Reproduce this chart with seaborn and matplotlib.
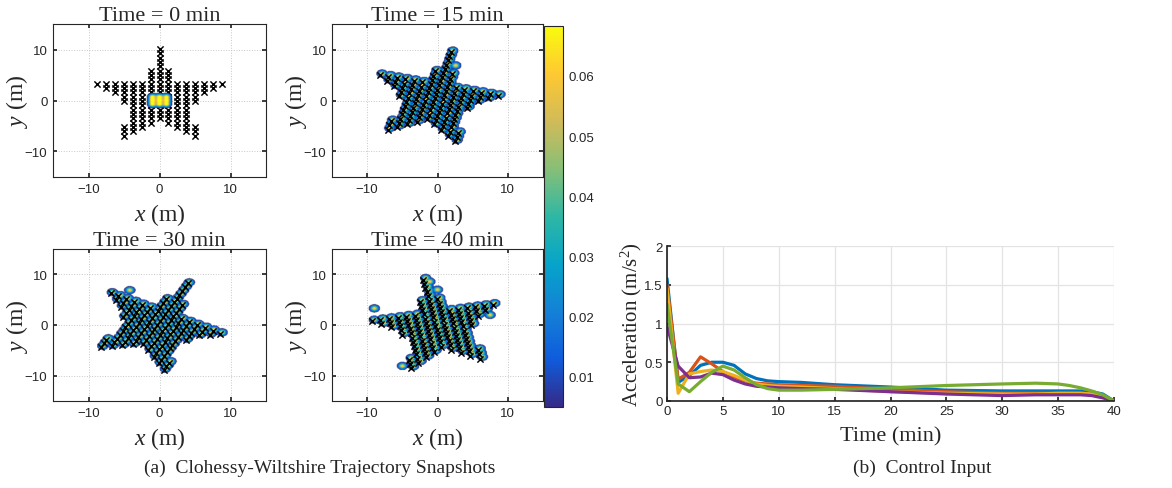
import numpy as np
import pandas as pd
import matplotlib
matplotlib.use("Agg")
import matplotlib.pyplot as plt
from matplotlib.colors import LinearSegmentedColormap
from matplotlib.path import Path
import seaborn as sns

# ---------------- data ----------------
# initial star formation: outline vertices (CCW, outer tip / inner corner alternating)
STAR_X = [0.0, -2.0, -9.2, -3.5, -5.6, 0.0, 5.6, 3.5, 9.2, 2.0]
STAR_Y = [9.8, 3.5, 3.5, -1.2, -7.2, -3.8, -7.2, -1.2, 3.5, 3.5]
GRID_DX = 1.25          # column spacing of agents (m)
GRID_DY = 0.85          # row spacing of agents (m)
GRID_Y0 = 3.3           # a row of agents sits on this height

# outer tips of the initial star, in the order top, left, bottom-left, bottom-right, right
TIP0_X = [0.0, -8.75, -5.0, 5.0, 8.75]
TIP0_Y = [9.5, 3.3, -6.8, -6.8, 3.3]

# tips of the formation at each snapshot
SNAP_TIMES = [15, 30, 40]
TIP15_X = [1.8, -8.0, -7.5, 3.0, 8.3]
TIP15_Y = [9.0, 5.0, -5.7, -7.8, 0.8]
TIP30_X = [3.8, -6.8, -8.5, 1.0, 8.3]
TIP30_Y = [7.5, 6.3, -4.2, -9.0, -1.5]
TIP40_X = [-1.5, -9.5, -4.0, 6.5, 7.3]
TIP40_Y = [8.3, 0.8, -8.5, -6.5, 4.0]

# density blobs: initial cluster around the origin
BLOB0_X = [-1.0, 0.0, 1.0, -1.0, 0.0, 1.0, -1.0, 0.0, 1.0]
BLOB0_Y = [-0.75, -0.75, -0.75, 0.0, 0.0, 0.0, 0.75, 0.75, 0.75]
# shift of the density blobs relative to the agents, per snapshot
BLOB_SHIFT_X = [0.3, 0.25, 0.35]
BLOB_SHIFT_Y = [0.3, 0.25, 0.35]
# isolated density blobs, per snapshot
STRAY15_X, STRAY15_Y = [2.6], [6.9]
STRAY30_X, STRAY30_Y = [-4.2], [6.9]
STRAY40_X = [-9.0, -5.0, 7.5, -1.1, 0.0]
STRAY40_Y = [3.3, -8.1, 2.0, 8.6, 7.0]

# control input (acceleration, m/s^2) of five agents over time (min)
TIME_MIN = [0, 1, 2, 3, 4, 5, 6, 7, 8, 9, 10, 12, 15, 20, 25, 30, 33, 35, 36, 37, 38, 39, 40]
ACC_BLUE = [1.58, 0.24, 0.33, 0.46, 0.50, 0.50, 0.46, 0.35, 0.29, 0.26, 0.25, 0.24, 0.21,
            0.18, 0.14, 0.13, 0.13, 0.13, 0.13, 0.13, 0.12, 0.09, 0.0]
ACC_ORANGE = [1.50, 0.28, 0.37, 0.57, 0.48, 0.38, 0.31, 0.26, 0.23, 0.22, 0.21, 0.20, 0.19,
              0.15, 0.12, 0.10, 0.10, 0.10, 0.10, 0.10, 0.09, 0.06, 0.0]
ACC_YELLOW = [1.45, 0.10, 0.35, 0.38, 0.40, 0.38, 0.33, 0.27, 0.22, 0.20, 0.19, 0.18, 0.16,
              0.12, 0.10, 0.09, 0.09, 0.10, 0.10, 0.10, 0.09, 0.06, 0.0]
ACC_PURPLE = [0.97, 0.45, 0.30, 0.31, 0.36, 0.34, 0.27, 0.22, 0.19, 0.18, 0.17, 0.16, 0.15,
              0.12, 0.09, 0.07, 0.08, 0.08, 0.08, 0.08, 0.07, 0.04, 0.0]
ACC_GREEN = [1.25, 0.22, 0.12, 0.25, 0.37, 0.45, 0.40, 0.30, 0.21, 0.16, 0.14, 0.14, 0.15,
             0.17, 0.20, 0.22, 0.23, 0.22, 0.20, 0.17, 0.13, 0.08, 0.0]
AGENT_COLORS = ["#0072BD", "#D95319", "#EDB120", "#7E2F8E", "#77AC30"]

VMIN, VMAX = 0.005, 0.0683
CBAR_TICKS = [0.01, 0.02, 0.03, 0.04, 0.05, 0.06]

# ---------------- style ----------------
sns.set_theme(style="white")
plt.rcParams.update({
    "font.family": ["Liberation Sans", "DejaVu Sans"],
    "mathtext.fontset": "custom",
    "mathtext.rm": "Liberation Serif",
    "mathtext.it": "Liberation Serif:italic",
    "axes.edgecolor": "#262626",
    "xtick.color": "#262626",
    "ytick.color": "#262626",
})
SERIF = "Liberation Serif"

parula = LinearSegmentedColormap.from_list(
    "parula", ["#352a87", "#0f5cdd", "#1481d6", "#06a4ca", "#2eb7a4",
               "#87bf77", "#d1bb59", "#fec832", "#f9fb0e"])

# ---------------- geometry helpers ----------------
star = Path(np.column_stack([STAR_X + [STAR_X[0]], STAR_Y + [STAR_Y[0]]]), closed=True)
cols = np.arange(-8, 9) * GRID_DX
rows = GRID_Y0 + np.arange(-13, 9) * GRID_DY
CX, CY = np.meshgrid(cols, rows)
cand = np.column_stack([CX.ravel(), CY.ravel()])
inside = star.contains_points(cand, radius=0.25) | star.contains_points(cand, radius=-0.25)
agents0 = cand[inside]

base_tips = np.column_stack([TIP0_X, TIP0_Y, np.ones(5)])


def formation(tx, ty):
    """Agents of the initial star carried by the affine map that moves its tips to (tx, ty)."""
    A, *_ = np.linalg.lstsq(base_tips, np.column_stack([tx, ty]), rcond=None)
    return np.column_stack([agents0, np.ones(len(agents0))]) @ A


gx = np.linspace(-15, 15, 361)
GX, GY = np.meshgrid(gx, gx)


def density(bx, by, sigma, peak, mode):
    field = np.zeros_like(GX)
    for x0, y0 in zip(bx, by):
        g = peak * np.exp(-((GX - x0) ** 2 + (GY - y0) ** 2) / (2 * sigma ** 2))
        field = np.maximum(field, g) if mode == "max" else field + g
    return np.ma.masked_less(field, VMIN)


# ---------------- figure ----------------
fig = plt.figure(figsize=(11.72, 4.89), dpi=100)
W, H = 1172, 489


def box(l, t, r, b):
    return [l / W, 1 - b / H, (r - l) / W, (b - t) / H]


snap_axes = [fig.add_axes(box(53, 25, 266, 178)), fig.add_axes(box(332, 25, 543, 178)),
             fig.add_axes(box(53, 250, 266, 402)), fig.add_axes(box(332, 250, 543, 402))]
cax = fig.add_axes(box(544, 27, 563, 408))
ax_u = fig.add_axes(box(667, 247, 1114, 402))

# (time, agents, density field, density drawn above the agents?)
snapshots = [(0, agents0, density(BLOB0_X, BLOB0_Y, 0.34, 0.068, "sum"), True)]
tips = [(TIP15_X, TIP15_Y), (TIP30_X, TIP30_Y), (TIP40_X, TIP40_Y)]
strays = [(STRAY15_X, STRAY15_Y), (STRAY30_X, STRAY30_Y), (STRAY40_X, STRAY40_Y)]
for i, t in enumerate(SNAP_TIMES):
    pts = formation(*tips[i])
    bx = list(pts[:, 0] + BLOB_SHIFT_X[i]) + strays[i][0]
    by = list(pts[:, 1] + BLOB_SHIFT_Y[i]) + strays[i][1]
    snapshots.append((t, pts, density(bx, by, 0.36, 0.064, "max"), False))

im = None
for ax, (t, pts, field, on_top) in zip(snap_axes, snapshots):
    im = ax.imshow(field, origin="lower", extent=[-15, 15, -15, 15], aspect="auto",
                   cmap=parula, vmin=VMIN, vmax=VMAX, interpolation="bilinear",
                   zorder=4 if on_top else 1)
    df = pd.DataFrame({"x": pts[:, 0], "y": pts[:, 1]})
    sns.scatterplot(data=df, x="x", y="y", marker="x", color="black", s=20,
                    linewidth=1.05, ax=ax, legend=False, zorder=3)
    ax.set_xlim(-15, 15)
    ax.set_ylim(-15, 15)
    ax.set_xticks([-10, 0, 10])
    ax.set_yticks([-10, 0, 10])
    ax.grid(True, linestyle=":", linewidth=0.7, color="#c8c8c8", zorder=0)
    ax.set_axisbelow(True)
    ax.tick_params(direction="in", length=3, labelsize=9.5, top=True, right=True,
                   left=True, bottom=True, pad=4)
    for s in ax.spines.values():
        s.set_linewidth(0.8)
    ax.set_title(f"Time = {t} min", family=SERIF, fontsize=16, pad=3)
    ax.set_xlabel("$x$ (m)", family=SERIF, fontsize=17)
    ax.set_ylabel("$y$ (m)", family=SERIF, fontsize=17)
    ax.xaxis.set_label_coords(0.5, -0.245)
    ax.xaxis.label.set_va("center")
    ax.yaxis.set_label_coords(-0.17, 0.5)
    ax.yaxis.label.set_va("center")

cb = fig.colorbar(im, cax=cax, ticks=CBAR_TICKS)
cb.ax.tick_params(direction="in", length=3, labelsize=9.5, pad=4)
cb.ax.set_yticklabels([f"{v:.2f}" for v in CBAR_TICKS])
cb.outline.set_linewidth(0.8)

# control input curves
names = ["a1", "a2", "a3", "a4", "a5"]
series = [ACC_BLUE, ACC_ORANGE, ACC_YELLOW, ACC_PURPLE, ACC_GREEN]
long = pd.DataFrame({
    "time": np.tile(TIME_MIN, len(names)),
    "acc": np.concatenate(series),
    "agent": np.repeat(names, len(TIME_MIN)),
})
sns.lineplot(data=long, x="time", y="acc", hue="agent", hue_order=names,
             palette=AGENT_COLORS, linewidth=2.3, ax=ax_u, legend=False)
ax_u.set_xlim(0, 40)
ax_u.set_ylim(0, 2)
ax_u.set_xticks(range(0, 41, 5))
ax_u.set_yticks([0, 0.5, 1, 1.5, 2])
ax_u.set_yticklabels(["0", "0.5", "1", "1.5", "2"])
ax_u.grid(True, color="#e3e3e3", linewidth=0.9)
ax_u.set_axisbelow(True)
ax_u.spines["top"].set_visible(False)
ax_u.spines["right"].set_visible(False)
ax_u.tick_params(direction="in", length=3, labelsize=9.5, pad=3, left=True, bottom=True)
ax_u.set_xlabel("Time (min)", family=SERIF, fontsize=16)
ax_u.set_ylabel("Acceleration (m/s$^2$)", family=SERIF, fontsize=15)
ax_u.xaxis.set_label_coords(0.5, -0.225)
ax_u.xaxis.label.set_va("center")
ax_u.yaxis.set_label_coords(-0.08, 0.5)
ax_u.yaxis.label.set_va("center")

fig.text(320 / W, 1 - 468 / H, "(a)  Clohessy-Wiltshire Trajectory Snapshots",
         family=SERIF, fontsize=14, ha="center", va="center")
fig.text(922 / W, 1 - 468 / H, "(b)  Control Input",
         family=SERIF, fontsize=14, ha="center", va="center")

fig.savefig("out.png", dpi=100)
